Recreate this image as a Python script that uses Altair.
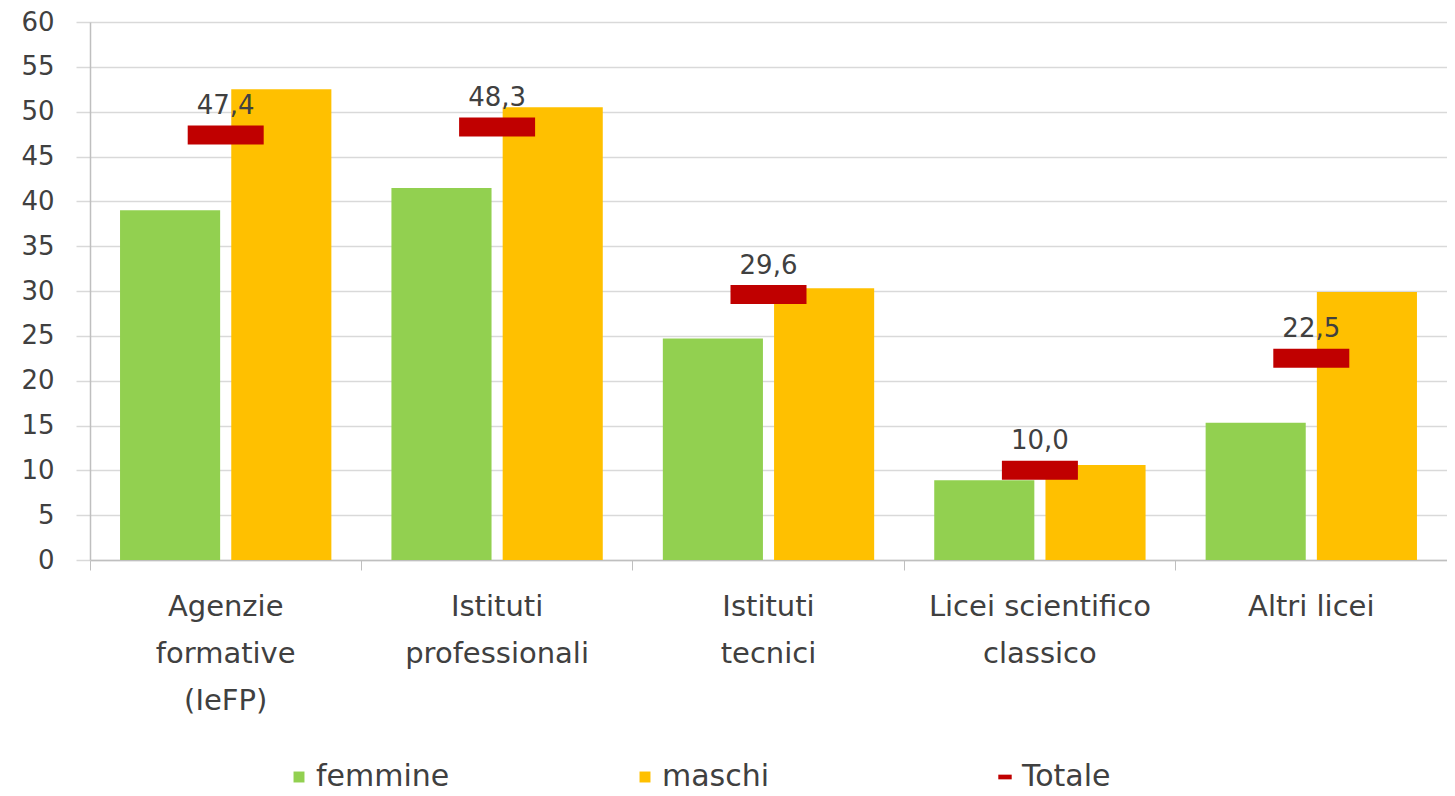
import altair as alt
import pandas as pd

categorie = [
    "Agenzie formative (IeFP)",
    "Istituti professionali",
    "Istituti tecnici",
    "Licei scientifico classico",
    "Altri licei",
]
etichette = [
    "Agenzie\nformative\n(IeFP)",
    "Istituti\nprofessionali",
    "Istituti\ntecnici",
    "Licei scientifico\nclassico",
    "Altri licei",
]
femmine = [39.0, 41.5, 24.7, 8.9, 15.3]
maschi = [52.5, 50.5, 30.3, 10.6, 29.9]
totale = [47.4, 48.3, 29.6, 10.0, 22.5]

rows = []
for c, f, m in zip(categorie, femmine, maschi):
    rows.append({"categoria": c, "serie": "femmine", "valore": f})
    rows.append({"categoria": c, "serie": "maschi", "valore": m})
bars_df = pd.DataFrame(rows)
tot_df = pd.DataFrame({"categoria": categorie, "serie": "Totale", "valore": totale})

label_map = "{" + ",".join(f"'{c}': '{e}'" for c, e in zip(categorie, etichette)).replace("\n", "\\n") + "}"

FONT = "DejaVu Sans"
TXT = "#404040"

x_enc = alt.X(
    "categoria:N",
    sort=categorie,
    title=None,
    scale=alt.Scale(paddingInner=0, paddingOuter=0),
    axis=alt.Axis(
        labelExpr=f"split({label_map}[datum.label], '\\n')",
        labelAngle=0,
        labelFontSize=29,
        labelLineHeight=47,
        labelLimit=400,
        labelColor=TXT,
        labelFont=FONT,
        labelPadding=22,
        bandPosition=0,
        tickSize=10,
        tickColor="#bfbfbf",
        domainColor="#bfbfbf",
        domainWidth=1.5,
        grid=False,
    ),
)

y_enc = alt.Y(
    "valore:Q",
    title=None,
    scale=alt.Scale(domain=[0, 60], nice=False),
    axis=alt.Axis(
        values=list(range(0, 61, 5)),
        labelFontSize=26,
        labelFont=FONT,
        labelColor=TXT,
        labelPadding=22,
        tickSize=14,
        tickColor="#d9d9d9",
        tickWidth=1.5,
        gridColor="#d9d9d9",
        gridWidth=1.5,
        domainColor="#bfbfbf",
        domainWidth=1.5,
    ),
)

legend_common = dict(
    orient="none",
    direction="horizontal",
    labelFontSize=30,
    labelFont=FONT,
    labelColor=TXT,
    labelOffset=2,
    symbolStrokeWidth=0,
    legendY=740,
)

bars = (
    alt.Chart(bars_df)
    .mark_bar()
    .encode(
        x=x_enc,
        xOffset=alt.XOffset(
            "serie:N",
            sort=["femmine", "maschi"],
            scale=alt.Scale(paddingInner=0.1, paddingOuter=0.27),
        ),
        y=y_enc,
        color=alt.Color(
            "serie:N",
            scale=alt.Scale(domain=["femmine", "maschi"], range=["#92D050", "#FFC000"]),
            title=None,
            legend=alt.Legend(
                legendX=194,
                symbolType="square",
                symbolSize=120,
                columnPadding=180,
                gridAlign="all",
                **legend_common,
            ),
        ),
    )
)

ticks = (
    alt.Chart(tot_df)
    .mark_tick(size=76, thickness=19, opacity=1)
    .encode(
        x=alt.X("categoria:N", sort=categorie),
        y=alt.Y("valore:Q"),
        color=alt.Color(
            "serie:N",
            scale=alt.Scale(domain=["Totale"], range=["#C00000"]),
            title=None,
            legend=alt.Legend(
                legendX=900,
                symbolType="M-1,-0.35H1V0.35H-1Z",
                symbolSize=180,
                symbolFillColor="#C00000",
                **legend_common,
            ),
        ),
    )
)

labels = (
    alt.Chart(tot_df)
    .transform_calculate(txt="replace(format(datum.valore, '.1f'), '.', ',')")
    .mark_text(dy=-29, fontSize=26, font=FONT, color=TXT, baseline="middle")
    .encode(x=alt.X("categoria:N", sort=categorie), y=alt.Y("valore:Q"), text="txt:N")
)

chart = (
    alt.layer(bars, ticks, labels)
    .resolve_scale(color="independent")
    .properties(width=1357, height=538, padding={"left": 12, "top": 1, "right": 0, "bottom": 0})
    .configure_view(stroke=None)
    .configure(background="white")
)

chart.save("out.html", embed_options={"renderer": "svg", "actions": False})
